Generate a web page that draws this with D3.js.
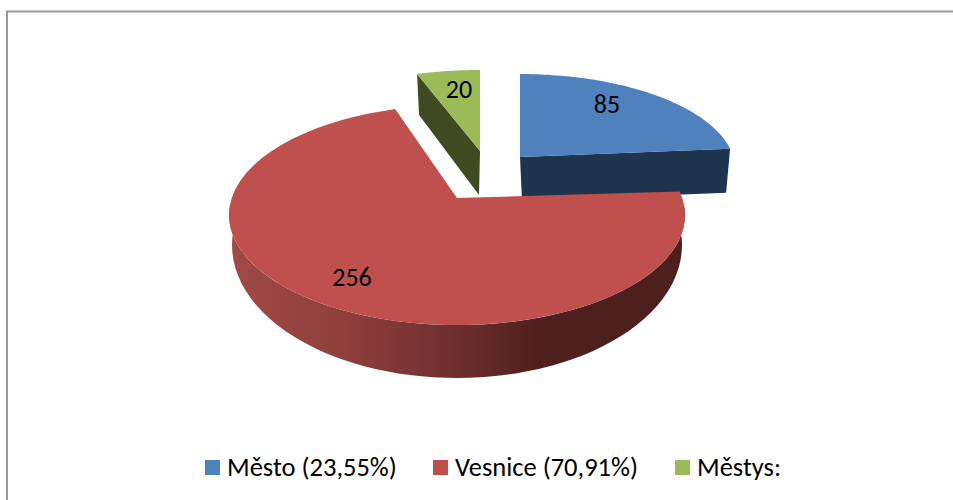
<!DOCTYPE html>
<html><head><meta charset="utf-8">
<script src="https://cdn.jsdelivr.net/npm/d3@7"></script>
<style>html,body{margin:0;background:#fff}svg{display:block}text{font-family:Carlito,"Open Sans","Noto Sans",sans-serif;fill:#000}</style>
</head><body><svg id="c" width="953" height="500"></svg>
<script>
const categories=["Město (23,55%)","Vesnice (70,91%)","Městys:"];
const values=[85,256,20];
const topColors=["#4f81bd","#c0504d","#9bbb59"];
const sideColors=["#1f344f","#7a3331","#3f4a21"];
const svg=d3.select("#c");
svg.append("path").attr("d","M7,500V11.5H953").attr("fill","none").attr("stroke","#999").attr("stroke-width",2);
const pie=d3.pie().sort(null).value(d=>d)(values);
const frames=[
 {ax:520,ay:157,cx:520,cy:169,rx:215,ry:95,depth:44},
 {ax:457,ay:198,cx:457,cy:215,rx:228,ry:110,depth:53,bcx:457,bcy:245,brx:225,bry:133},
 {ax:480,ay:151,cx:480,cy:175,rx:232,ry:105,depth:44}
];
const rad=Math.PI/180;
const skew=a=>a-6.5*rad*Math.sin(a)-3.1*rad*Math.sin(2*a);
const pt=(f,a)=>{const t=skew(a);return [f.cx+f.rx*Math.sin(t),f.cy-f.ry*Math.cos(t)];};
const bpt=(f,a)=>{const t=skew(a);return [f.bcx+f.brx*Math.sin(t),f.bcy-f.bry*Math.cos(t)];};
const steps=d3.range(0,61);
const line=d3.line();
const defs=svg.append("defs");
const grad=defs.append("linearGradient").attr("id","wall").attr("gradientUnits","userSpaceOnUse").attr("x1",229).attr("x2",685).attr("y1",0).attr("y2",0);
[[0,"#a04a47"],[.25,"#8f3f3c"],[.48,"#703030"],[.68,"#4e201d"],[1,"#4e201d"]].forEach(s=>grad.append("stop").attr("offset",s[0]).attr("stop-color",s[1]));
[2,0,1].forEach(i=>{
 const f=frames[i],p=pie[i],a0=p.startAngle,a1=p.endAngle,g=svg.append("g");
 const apex=[f.ax,f.ay];
 if(i===1){
  const w0=Math.PI/2,w1=3*Math.PI/2;
  const front=steps.map(k=>pt(f,w0+(w1-w0)*k/60));
  const bottom=steps.map(k=>bpt(f,w0+(w1-w0)*k/60)).reverse();
  g.append("path").attr("d",line(front.concat(bottom))+"Z").attr("fill","url(#wall)");
 } else {
  const e=pt(f,i===0?a1:a0);
  const face=[apex,e,[e[0]-(i===0?4:-2),e[1]+f.depth-(i===0?0:3)],[apex[0]+(i===0?2:-1),apex[1]+f.depth]];
  g.append("path").attr("d",line(face)+"Z").attr("fill",sideColors[i]);
 }
 const top=[apex].concat(steps.map(k=>pt(f,a0+(a1-a0)*k/60)));
 g.append("path").attr("d",line(top)+"Z").attr("fill",topColors[i]);
});
const labelPos=[[607,107],[352,280],[459,92]];
values.forEach((v,i)=>svg.append("text").attr("x",labelPos[i][0]).attr("y",labelPos[i][1]).attr("text-anchor","middle").attr("dominant-baseline","middle").attr("font-size",26).text(v));
const legX=[205,433,675],x=d3.scaleOrdinal().domain(categories).range(legX);
categories.forEach((c,i)=>{
 svg.append("rect").attr("x",x(c)).attr("y",460).attr("width",15).attr("height",15).attr("fill",topColors[i]);
 svg.append("text").attr("x",x(c)+22).attr("y",476).attr("font-size",26.5).text(c);
});
</script></body></html>
